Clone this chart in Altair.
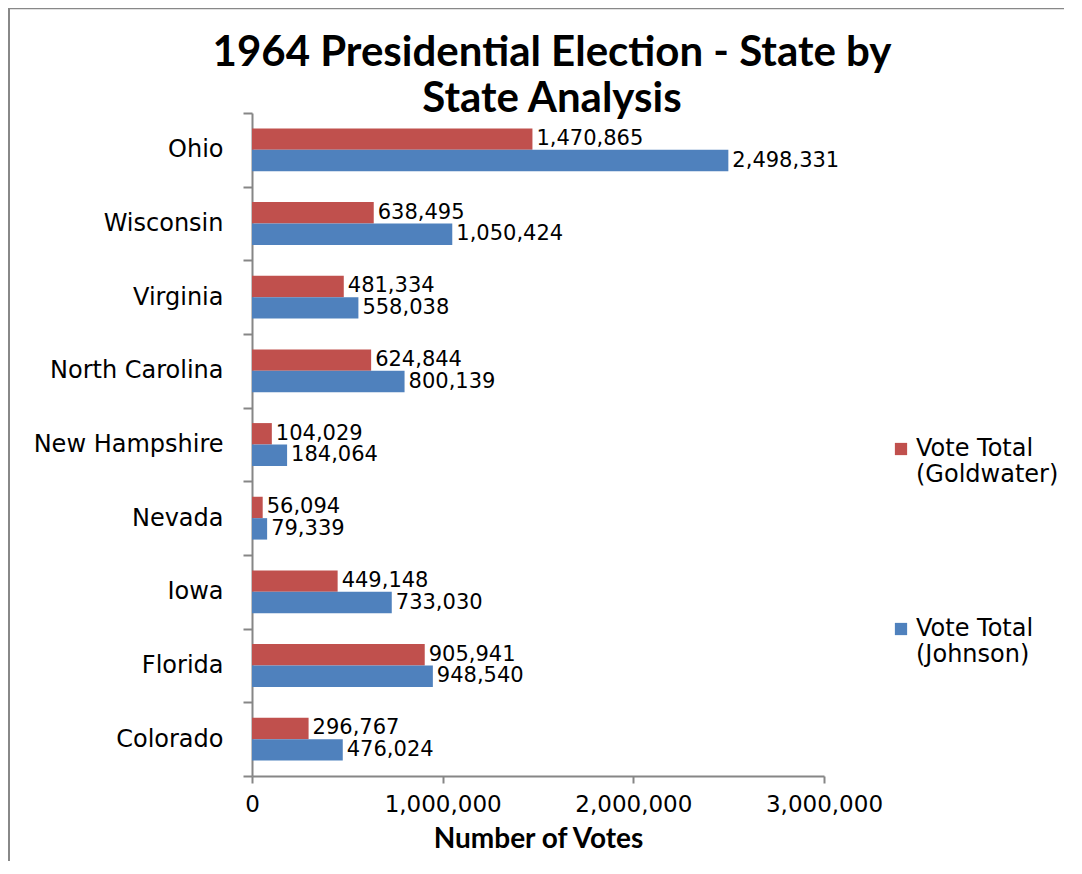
import altair as alt
import pandas as pd

states = ["Ohio", "Wisconsin", "Virginia", "North Carolina", "New Hampshire",
          "Nevada", "Iowa", "Florida", "Colorado"]
goldwater = [1470865, 638495, 481334, 624844, 104029, 56094, 449148, 905941, 296767]
johnson = [2498331, 1050424, 558038, 800139, 184064, 79339, 733030, 948540, 476024]
series = ["Vote Total (Goldwater)", "Vote Total (Johnson)"]
colors = ["#C0504D", "#4F81BD"]
x_ticks = [0, 1000000, 2000000, 3000000]

rows = []
for s, g, j in zip(states, goldwater, johnson):
    rows.append({"State": s, "Series": series[0], "Votes": g})
    rows.append({"State": s, "Series": series[1], "Votes": j})
df = pd.DataFrame(rows)

LABEL_FONT = "DejaVu Sans"
AXIS_GRAY = "#868686"

base = alt.Chart(df).encode(
    y=alt.Y(
        "State:N",
        sort=states,
        scale=alt.Scale(paddingInner=0, paddingOuter=0),
        axis=alt.Axis(
            title=None,
            tickBand="extent",
            tickSize=9,
            tickColor=AXIS_GRAY,
            tickWidth=2,
            domainColor=AXIS_GRAY,
            domainWidth=2,
            labelFont=LABEL_FONT,
            labelFontSize=24,
            labelColor="black",
            labelPadding=20,
            labelLimit=300,
        ),
    ),
    yOffset=alt.YOffset("Series:N", sort=series,
                        scale=alt.Scale(paddingInner=0, paddingOuter=0.72)),
    x=alt.X(
        "Votes:Q",
        scale=alt.Scale(domain=[0, 3000000], nice=False),
        axis=alt.Axis(
            title="Number of Votes",
            values=x_ticks,
            format=",d",
            grid=False,
            tickSize=7,
            tickColor=AXIS_GRAY,
            tickWidth=2,
            domainColor=AXIS_GRAY,
            domainWidth=2,
            labelFont=LABEL_FONT,
            labelFontSize=23,
            labelColor="black",
            labelPadding=10,
            labelFlush=False,
            titleFont="Lato",
            titleFontWeight="bold",
            titleFontSize=28,
            titleColor="black",
            titlePadding=9,
        ),
    ),
)

bars = base.mark_bar().encode(
    color=alt.Color(
        "Series:N",
        sort=series,
        scale=alt.Scale(domain=series, range=colors),
        legend=alt.Legend(
            title=None,
            orient="none",
            legendX=637,
            legendY=324,
            symbolType="square",
            symbolSize=150,
            symbolStrokeWidth=0,
            labelFont=LABEL_FONT,
            labelFontSize=24,
            labelColor="black",
            labelBaseline="middle",
            labelOffset=3,
            labelLimit=300,
            rowPadding=130,
            labelExpr="[slice(datum.label, 0, 10), slice(datum.label, 11)]",
        ),
    )
)

text = base.mark_text(
    align="left", baseline="middle", dx=4, font=LABEL_FONT, fontSize=21, color="black"
).encode(text=alt.Text("Votes:Q", format=",d"))

# chart frame (left and top border lines of the original chart box)
frame_df = pd.DataFrame({"k": [0]})
frame_left = alt.Chart(frame_df).mark_rule(color="#888888", strokeWidth=3).encode(
    x=alt.value(-243.5), y=alt.value(-104.5), y2=alt.value(760)
)
frame_top = alt.Chart(frame_df).mark_rule(color="#888888", strokeWidth=1.5).encode(
    x=alt.value(-245), x2=alt.value(830), y=alt.value(-104.5)
)

chart = (bars + text + frame_left + frame_top).properties(
    width=572,
    height=663,
    background="white",
    title=alt.Title(
        ["1964 Presidential Election - State by", "State Analysis"],
        font="Lato",
        fontWeight="bold",
        fontSize=42,
        lineHeight=46,
        color="black",
        anchor="middle",
        frame="group",
        dx=14,
        dy=116,
        offset=2,
    ),
    autosize=alt.AutoSizeParams(type="none"),
    padding={"left": 244, "top": 105, "right": 240, "bottom": 85},
).configure_view(stroke=None)

chart.save("out.html", embed_options={"renderer": "svg", "actions": False})
